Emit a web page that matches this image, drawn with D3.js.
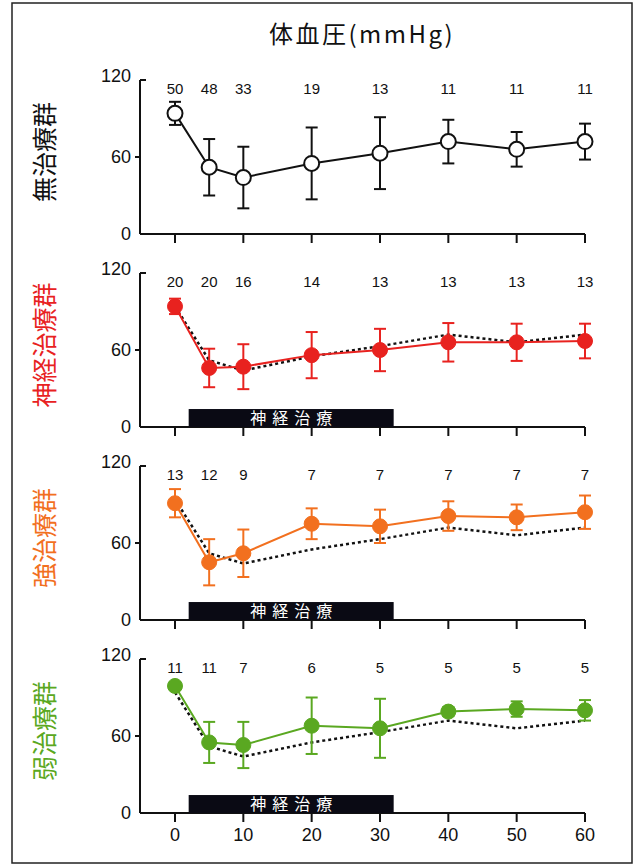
<!DOCTYPE html>
<html>
<head>
<meta charset="utf-8">
<script src="https://cdn.jsdelivr.net/npm/d3@7"></script>
<style>
  html, body { margin: 0; padding: 0; background: #fff; }
  svg { display: block; }
</style>
</head>
<body>
<svg id="chart" width="639" height="866"></svg>
<script>
// Time points (minutes) and the y-axis ticks
const times = [0, 5, 10, 20, 30, 40, 50, 60];
const xTicks = [0, 10, 20, 30, 40, 50, 60];
const yTicks = [0, 60, 120];

// Group names
const groups = ["無治療群", "神経治療群", "強治療群", "弱治療群"];
const groupColors = ["#111111", "#e8221f", "#f2701f", "#5aa821"];

// Number of subjects at each time point
const nNone   = [50, 48, 33, 19, 13, 11, 11, 11];
const nNerve  = [20, 20, 16, 14, 13, 13, 13, 13];
const nStrong = [13, 12, 9, 7, 7, 7, 7, 7];
const nWeak   = [11, 11, 7, 6, 5, 5, 5, 5];

// Mean systemic blood pressure (mmHg)
const meanNone   = [94, 52, 44, 55, 63, 72, 66, 72];
const meanNerve  = [94, 46, 47, 56, 60, 66, 66, 67];
const meanStrong = [91, 45, 52, 75, 73, 81, 80, 84];
const meanWeak   = [99, 55, 53, 68, 66, 79, 81, 80];

// Standard deviations (error bars)
const sdNone   = [9, 22, 24, 28, 28, 17, 13.5, 14];
const sdNerve  = [6, 15, 17.5, 18, 16.5, 15, 14.5, 13.5];
const sdStrong = [11, 18, 18.5, 12, 13, 11.5, 10, 13];
const sdWeak   = [3, 16, 18, 22, 23, 3.5, 6, 8];

// Treatment period bar (minutes) and its height (mmHg)
const treatStart = 2, treatEnd = 32, treatTop = 14;
const treatLabel = "神経治療";

const title = "体血圧(mmHg)";

const panels = [
  { name: groups[0], color: groupColors[0], n: nNone,   mean: meanNone,   sd: sdNone,   open: true,  ref: false, treat: false },
  { name: groups[1], color: groupColors[1], n: nNerve,  mean: meanNerve,  sd: sdNerve,  open: false, ref: true,  treat: true },
  { name: groups[2], color: groupColors[2], n: nStrong, mean: meanStrong, sd: sdStrong, open: false, ref: true,  treat: true },
  { name: groups[3], color: groupColors[3], n: nWeak,   mean: meanWeak,   sd: sdWeak,   open: false, ref: true,  treat: true }
];

const svg = d3.select("#chart");
const numFont = "'Liberation Sans', Arial, sans-serif";
const jpFont = "'Noto Sans CJK JP', 'Noto Sans', sans-serif";

// Outer frame
svg.append("rect")
  .attr("x", 12).attr("y", 3).attr("width", 620).attr("height", 860)
  .attr("fill", "none").attr("stroke", "#222").attr("stroke-width", 1.5);

// Title
svg.append("text")
  .attr("x", 362).attr("y", 43)
  .attr("text-anchor", "middle")
  .attr("font-family", jpFont)
  .attr("font-size", 24)
  .attr("letter-spacing", 2.5)
  .attr("fill", "#111")
  .text(title);

const axisX = 140;
const x = d3.scaleLinear().domain([0, 60]).range([175, 585]);
const panelTop0 = 80, panelStep = 193, panelH = 154;

panels.forEach((p, i) => {
  const top = panelTop0 + i * panelStep;
  const y = d3.scaleLinear().domain([0, 120]).range([top + panelH, top]);
  const g = svg.append("g");

  // Side label (rotated)
  g.append("text")
    .attr("transform", `translate(54,${top + panelH / 2 - 5}) rotate(-90)`)
    .attr("text-anchor", "middle")
    .attr("font-family", jpFont)
    .attr("font-size", 25)
    .attr("fill", p.color)
    .text(p.name);

  // Y axis
  g.append("line")
    .attr("x1", axisX).attr("x2", axisX)
    .attr("y1", y(120)).attr("y2", y(0))
    .attr("stroke", "#111").attr("stroke-width", 2);
  g.append("line")
    .attr("x1", axisX).attr("x2", axisX + 6)
    .attr("y1", y(120)).attr("y2", y(120))
    .attr("stroke", "#111").attr("stroke-width", 2);
  g.append("line")
    .attr("x1", axisX - 5).attr("x2", axisX)
    .attr("y1", y(60)).attr("y2", y(60))
    .attr("stroke", "#111").attr("stroke-width", 2);
  g.selectAll("text.ytick")
    .data(yTicks)
    .join("text")
    .attr("class", "ytick")
    .attr("x", axisX - 9)
    .attr("y", d => y(d))
    .attr("dy", d => d === 120 ? "0.1em" : "0.36em")
    .attr("text-anchor", "end")
    .attr("font-family", numFont)
    .attr("font-size", 18)
    .attr("fill", "#111")
    .text(d => d);

  // X axis
  g.append("line")
    .attr("x1", axisX).attr("x2", x(60))
    .attr("y1", y(0)).attr("y2", y(0))
    .attr("stroke", "#111").attr("stroke-width", 2);
  g.selectAll("line.xtick")
    .data(xTicks)
    .join("line")
    .attr("class", "xtick")
    .attr("x1", d => x(d)).attr("x2", d => x(d))
    .attr("y1", y(0)).attr("y2", y(0) + 9)
    .attr("stroke", "#111").attr("stroke-width", 2);
  if (i === panels.length - 1) {
    g.selectAll("text.xlab")
      .data(xTicks)
      .join("text")
      .attr("class", "xlab")
      .attr("x", d => x(d))
      .attr("y", y(0) + 28)
      .attr("text-anchor", "middle")
      .attr("font-family", numFont)
      .attr("font-size", 18)
      .attr("fill", "#111")
      .text(d => d);
  }

  // Treatment period bar
  if (p.treat) {
    g.append("rect")
      .attr("x", x(treatStart))
      .attr("y", y(treatTop))
      .attr("width", x(treatEnd) - x(treatStart))
      .attr("height", y(0) - y(treatTop))
      .attr("fill", "#0a0a14");
    g.append("text")
      .attr("x", (x(treatStart) + x(treatEnd)) / 2 + 3)
      .attr("y", (y(0) + y(treatTop)) / 2)
      .attr("dy", "0.36em")
      .attr("text-anchor", "middle")
      .attr("font-family", jpFont)
      .attr("font-size", 16)
      .attr("letter-spacing", 6)
      .attr("fill", "#fff")
      .text(treatLabel);
  }

  // Subject counts
  g.selectAll("text.n")
    .data(p.n)
    .join("text")
    .attr("class", "n")
    .attr("x", (d, j) => x(times[j]))
    .attr("y", y(113))
    .attr("dy", "0.36em")
    .attr("text-anchor", "middle")
    .attr("font-family", numFont)
    .attr("font-size", 15)
    .attr("fill", "#111")
    .text(d => d);

  const line = d3.line().x((d, j) => x(times[j])).y(d => y(d));

  // Untreated group means as a dotted reference
  if (p.ref) {
    g.append("path")
      .datum(meanNone)
      .attr("d", line)
      .attr("fill", "none")
      .attr("stroke", "#111")
      .attr("stroke-width", 2.5)
      .attr("stroke-dasharray", "3,3");
  }

  // Error bars
  const eb = g.selectAll("g.eb")
    .data(p.mean.map((m, j) => ({ t: times[j], m, s: p.sd[j] })))
    .join("g")
    .attr("class", "eb");
  eb.append("line")
    .attr("x1", d => x(d.t)).attr("x2", d => x(d.t))
    .attr("y1", d => y(d.m + d.s)).attr("y2", d => y(d.m - d.s))
    .attr("stroke", p.color).attr("stroke-width", 2);
  [1, -1].forEach(sgn => {
    eb.append("line")
      .attr("x1", d => x(d.t) - 6).attr("x2", d => x(d.t) + 6)
      .attr("y1", d => y(d.m + sgn * d.s)).attr("y2", d => y(d.m + sgn * d.s))
      .attr("stroke", p.color).attr("stroke-width", 2);
  });

  // Mean line
  g.append("path")
    .datum(p.mean)
    .attr("d", line)
    .attr("fill", "none")
    .attr("stroke", p.color)
    .attr("stroke-width", 2);

  // Markers
  g.selectAll("circle.pt")
    .data(p.mean)
    .join("circle")
    .attr("class", "pt")
    .attr("cx", (d, j) => x(times[j]))
    .attr("cy", d => y(d))
    .attr("r", 7.5)
    .attr("fill", p.open ? "#fff" : p.color)
    .attr("stroke", p.open ? "#111" : p.color)
    .attr("stroke-width", p.open ? 2 : 1);
});
</script>
</body>
</html>
